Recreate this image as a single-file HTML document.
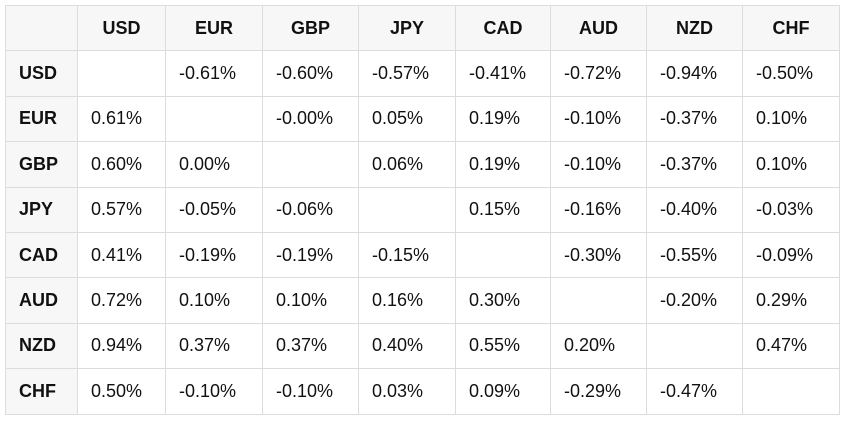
<!DOCTYPE html>
<html><head><meta charset="utf-8"><style>
html,body{margin:0;padding:0;background:#fff;width:847px;height:425px;overflow:hidden}
table{position:absolute;left:5px;top:5px;border-collapse:collapse;font-family:"Liberation Sans",sans-serif;font-size:18px;color:#111;table-layout:fixed}
td,th{border:1px solid #dcdcdc;height:45.4px;padding:0 0 0 13px;text-align:left;white-space:nowrap;box-sizing:border-box}
th{background:#f7f7f7;font-weight:bold;text-align:center;padding:0}
th.row{text-align:left;padding-left:13px}
</style></head><body>
<table id="t">
<colgroup><col style="width:72px"><col style="width:88px"><col style="width:97px"><col style="width:96px"><col style="width:97px"><col style="width:95px"><col style="width:96px"><col style="width:96px"><col style="width:97px"></colgroup>
</table>
<script>
const currencies=["USD","EUR","GBP","JPY","CAD","AUD","NZD","CHF"];
const values=[
[null,"-0.61%","-0.60%","-0.57%","-0.41%","-0.72%","-0.94%","-0.50%"],
["0.61%",null,"-0.00%","0.05%","0.19%","-0.10%","-0.37%","0.10%"],
["0.60%","0.00%",null,"0.06%","0.19%","-0.10%","-0.37%","0.10%"],
["0.57%","-0.05%","-0.06%",null,"0.15%","-0.16%","-0.40%","-0.03%"],
["0.41%","-0.19%","-0.19%","-0.15%",null,"-0.30%","-0.55%","-0.09%"],
["0.72%","0.10%","0.10%","0.16%","0.30%",null,"-0.20%","0.29%"],
["0.94%","0.37%","0.37%","0.40%","0.55%","0.20%",null,"0.47%"],
["0.50%","-0.10%","-0.10%","0.03%","0.09%","-0.29%","-0.47%",null]
];
const t=document.getElementById('t');
const hr=document.createElement('tr');


const corner=document.createElement('th');


hr.appendChild(corner);
currencies.forEach(c=>{
  const th=document.createElement('th');
  th.textContent=c;
  
  
  hr.appendChild(th);
});
t.appendChild(hr);
currencies.forEach((r,i)=>{
  const tr=document.createElement('tr');
  
  
  const th=document.createElement('th');
  th.className='row';
  th.textContent=r;
  
  
  tr.appendChild(th);
  currencies.forEach((c,j)=>{
    const td=document.createElement('td');
    td.textContent=values[i][j]||'';
    
    
    tr.appendChild(td);
  });
  t.appendChild(tr);
});
</script>
</body></html>
